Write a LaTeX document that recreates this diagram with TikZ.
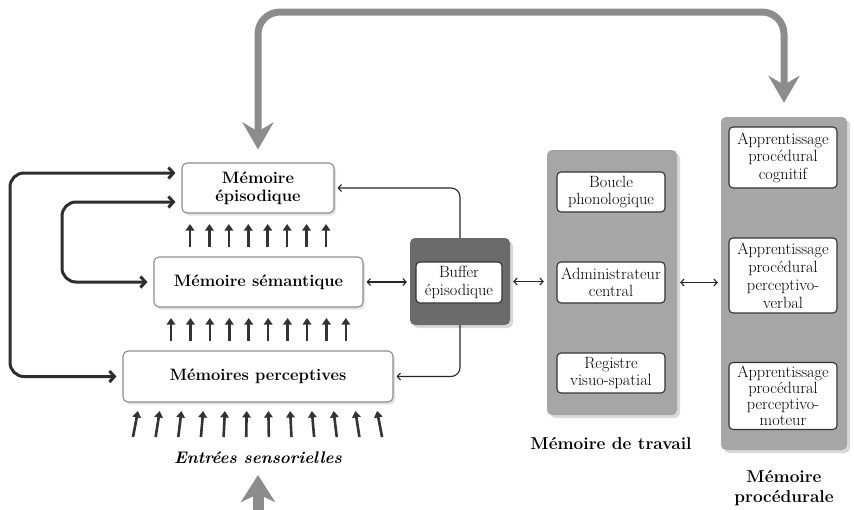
\documentclass[tikz,border=0pt]{standalone}
\usetikzlibrary{arrows.meta,shadows,calc}
\begin{document}
\begin{tikzpicture}[x=1pt,y=-1pt,
  membox/.style={draw=black!45, line width=1.1pt, rounded corners=5pt, fill=white,
    drop shadow={opacity=0.22, shadow xshift=2pt, shadow yshift=-2.5pt},
    font=\bfseries\fontsize{16.5}{18}\selectfont, align=center, inner sep=0pt},
  inbox/.style={draw=black!80, line width=1.1pt, rounded corners=4pt, fill=white,
    font=\fontsize{16.3}{17.5}\selectfont, align=center, inner sep=0pt, minimum width=108pt},
  panel/.style={fill=black!35, draw=none, rounded corners=5pt,
    drop shadow={opacity=0.3, shadow xshift=3pt, shadow yshift=-3pt}, inner sep=0pt},
  darkpanel/.style={fill=black!58, draw=none, rounded corners=5pt,
    drop shadow={opacity=0.3, shadow xshift=3pt, shadow yshift=-3pt}, inner sep=0pt},
  paneltitle/.style={font=\bfseries\fontsize{17.2}{20}\selectfont, align=center, inner sep=0pt},
  sarrow/.style={draw=black!80, line width=2.6pt, -{Triangle[width=8.5pt,length=6.5pt]}},
  loopline/.style={draw=black!82, line width=3pt, rounded corners=14pt,
    {Straight Barb[length=5pt,width=11pt]}-{Straight Barb[length=5pt,width=11pt]},
    shorten <=6pt, shorten >=6pt},
  thinline/.style={draw=black!85, line width=1.1pt, rounded corners=9pt},
  tipthin/.style={-{Straight Barb[length=3.2pt,width=7pt]}, shorten >=3pt},
  dbl/.style={{Straight Barb[length=3.2pt,width=7pt]}-{Straight Barb[length=3.2pt,width=7pt]}, shorten >=3pt, shorten <=3pt},
  bigarrow/.style={draw=black!45, line width=7pt, rounded corners=22pt},
  bighead/.style={{Stealth[width=31pt,length=27pt,inset=9pt]}-{Stealth[width=31pt,length=27pt,inset=9pt]}}
]
\useasboundingbox (0,0) rectangle (854,509);

% big gray feedback arrow level
\coordinate (topy) at (0,12);

% left memory boxes
\node[membox, minimum width=152pt, minimum height=50pt] (epi) at (258,188) {Mémoire\\épisodique};
\node[membox, minimum width=209pt, minimum height=50pt] (sem) at (258.5,282) {Mémoire sémantique};
\node[membox, minimum width=270pt, minimum height=51pt] (per) at (258,376.5) {Mémoires perceptives};

% buffer
\node[darkpanel, minimum width=100pt, minimum height=87pt] (buf) at (460,281.5) {};
\node[inbox, minimum width=86pt, minimum height=41pt] (bufin) at (459,282.5) {Buffer\\épisodique};

% working memory
\node[panel, minimum width=130pt, minimum height=265pt] (mdt) at (612,282.5) {};
\node[inbox, minimum height=40pt] (boucle) at (611,192) {Boucle\\phonologique};
\node[inbox, minimum height=41pt] (admin) at (611,282.5) {Administrateur\\central};
\node[inbox, minimum height=40pt] (regis) at (611,373) {Registre\\visuo-spatial};
\node[paneltitle] (mdtlab) at (611,443) {Mémoire de travail};

% procedural memory
\node[panel, minimum width=126pt, minimum height=333pt] (proc) at (784,283.5) {};
\node[inbox, minimum height=61pt] (ap1) at (783,157.5) {Apprentissage\\procédural\\cognitif};
\node[inbox, minimum height=75pt, font=\fontsize{16.3}{18}\selectfont] (ap2) at (783,275.5) {Apprentissage\\procédural\\perceptivo-\\verbal};
\node[inbox, minimum height=67pt, font=\fontsize{16.3}{16}\selectfont] (ap3) at (783,396) {Apprentissage\\procédural\\perceptivo-\\moteur};
\node[paneltitle] (proclab) at (784,488) {Mémoire\\procédurale};

% sensory input label
\node[font=\bfseries\itshape\fontsize{16.8}{18}\selectfont, inner sep=0pt] (ent) at (258,458) {Entrées sensorielles};
\coordinate (bottomin) at (258,525);
\coordinate (enttip) at (258,475);

% big gray arrows
\draw[bigarrow, bighead] ([yshift=13pt]epi.north) -- (epi.north |- topy) -- (proc.north |- topy) -- ([yshift=14pt]proc.north);
\draw[draw=black!45, line width=11pt, -{Stealth[width=34pt,length=27pt,inset=8pt]}] (bottomin) -- (enttip);

% small upward arrows
\foreach \i in {0,...,7} \draw[sarrow] (190+\i*19.43,247) -- (190+\i*19.43,224);
\foreach \i in {0,...,9} \draw[sarrow] (171+\i*19.43,341) -- (171+\i*19.43,318);
\foreach \i in {0,...,11} \draw[sarrow] (133+\i*22.64,437) -- (133+\i*22.64+0.9*5.5-0.9*\i,411);

% left loops
\draw[loopline] ([yshift=15pt]epi.west) -| (10,300) |- (per.west);
\draw[loopline] ([yshift=-14pt]epi.west) -| (62,240) |- (sem.west);

% buffer connectors
\draw[thinline, tipthin] (buf.north) |- (epi.east);
\draw[thinline, tipthin] (buf.south) |- (per.east);
\draw[thinline, dbl] (sem.east) -- (sem.east -| buf.west);
\draw[thinline, dbl] (buf.east) -- (buf.east -| mdt.west);
\draw[thinline, dbl] (mdt.east) -- (mdt.east -| proc.west);
\end{tikzpicture}
\end{document}
